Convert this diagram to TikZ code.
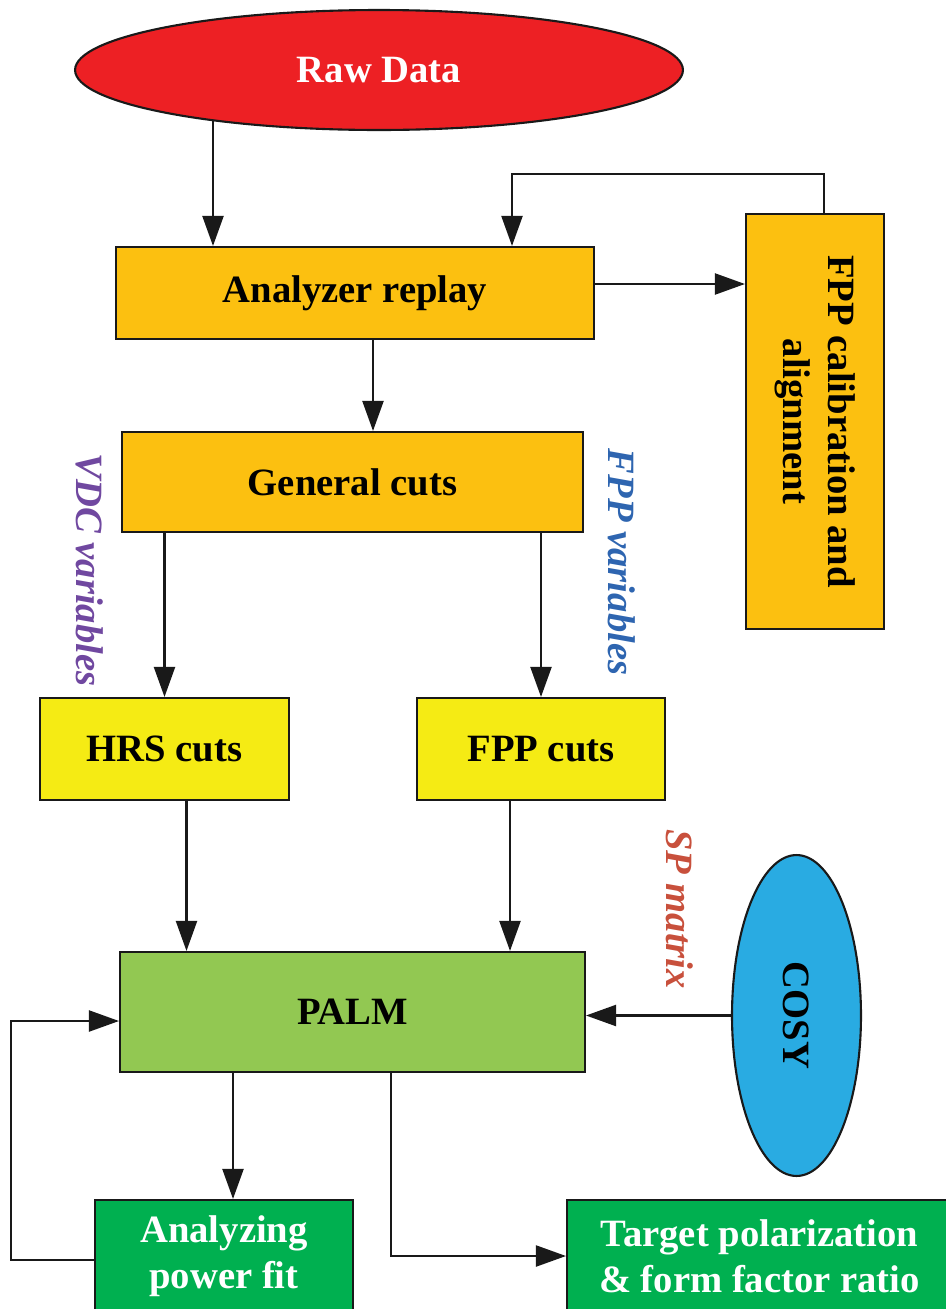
\documentclass[tikz,border=0pt]{standalone}
\usepackage{fontspec}
\setmainfont{Liberation Serif}
\usepackage{tikz}
\usetikzlibrary{shapes.geometric,arrows.meta,calc}

\definecolor{rawred}{RGB}{237,32,36}
\definecolor{boxorange}{RGB}{252,192,16}
\definecolor{boxyellow}{RGB}{245,235,20}
\definecolor{palmgreen}{RGB}{146,200,82}
\definecolor{fitgreen}{RGB}{0,176,80}
\definecolor{cosyblue}{RGB}{41,171,226}
\definecolor{vdcpurple}{RGB}{112,72,160}
\definecolor{fppblue}{RGB}{46,101,176}
\definecolor{spred}{RGB}{200,80,60}

\begin{document}
\begin{tikzpicture}[
    x=0.02cm, y=-0.02cm,
    txt/.style={font=\fontsize{22}{26}\selectfont\bfseries, align=center},
    box/.style={txt, draw=black!90, line width=1.2pt, inner sep=0pt},
    obox/.style={box, fill=boxorange},
    ybox/.style={box, fill=boxyellow},
    gbox/.style={box, fill=fitgreen, text=white},
    oval/.style={txt, ellipse, draw=black!90, line width=1.2pt, inner sep=0pt},
    vlbl/.style={txt, font=\fontsize{22}{26}\selectfont\bfseries\itshape, rotate=-90},
    arr/.style={-{Triangle[length=0.6cm, width=0.42cm]}, line width=1.2pt, draw=black!90},
  ]
  \useasboundingbox (0,0) rectangle (946,1309);
  \clip (0,0) rectangle (946,1309);

  % --- Top ---
  \node[oval, fill=rawred, text=white, minimum width=12.16cm, minimum height=2.4cm] (raw) at (379,70) {Raw Data};
  \node[obox, minimum width=9.56cm, minimum height=1.84cm] (replay) at (355,293) {Analyzer replay};
  \node[obox, minimum width=2.76cm, minimum height=8.3cm] (fppcal) at (815,421.5) {};
  \node[txt, rotate=-90] (fppcaltxt) at (fppcal.center) {FPP calibration and\\alignment};

  % --- Cuts ---
  \node[obox, minimum width=9.22cm, minimum height=2.0cm] (general) at (352.5,482) {General cuts};
  \node[ybox, minimum width=4.98cm, minimum height=2.04cm] (hrs) at (164.5,749) {HRS cuts};
  \node[ybox, minimum width=4.96cm, minimum height=2.04cm] (fppcuts) at (541,749) {FPP cuts};

  % --- Side labels ---
  \node[vlbl, text=vdcpurple] (vdc) at (90,570) {VDC variables};
  \node[vlbl, text=fppblue] (fppvar) at (622,562) {FPP variables};
  \node[vlbl, text=spred] (sp) at (680,909) {SP matrix};

  % --- PALM and results ---
  \node[box, fill=palmgreen, minimum width=9.3cm, minimum height=2.4cm] (palm) at (352.5,1012) {PALM};
  \node[oval, fill=cosyblue, minimum width=2.58cm, minimum height=6.42cm] (cosy) at (796.5,1015.5) {};
  \node[txt, rotate=-90] (cosytxt) at (cosy.center) {COSY};
  \node[gbox, minimum width=5.16cm, minimum height=2.24cm] (apfit) at (224,1256) {Analyzing\\power fit};
  \node[gbox, minimum width=7.7cm, minimum height=2.24cm] (target) at (759.5,1256) {Target polarization\\\& form factor ratio};

  % --- Arrow end points ---
  \coordinate (rawout) at ($(raw.south)+(-166,-10)$);
  \coordinate (replayout) at ($(replay.east)+(0,-9)$);
  \coordinate (replaydown) at ($(replay.south)+(18,0)$);
  \coordinate (replayin) at ($(replay.north)+(157,0)$);
  \coordinate (fppcalout) at ($(fppcal.north)+(9,0)$);
  \coordinate (hrsout) at ($(hrs.south)+(22,0)$);
  \coordinate (fppcutsout) at ($(fppcuts.south)+(-31,0)$);
  \coordinate (fitin) at ($(apfit.north)+(9,0)$);
  \coordinate (fitout) at ($(apfit.west)+(0,4)$);
  \coordinate (palmin) at ($(palm.west)+(0,9)$);
  \coordinate (palmout) at ($(palm.south)+(38.5,0)$);

  % --- Arrows ---
  \draw[arr] (rawout) -- (rawout |- replay.north);
  \draw[arr] (replayout) -- (replayout -| fppcal.west);
  \draw[arr] (fppcalout) -- ++(0,-39) -| (replayin);
  \draw[arr] (replaydown) -- (replaydown |- general.north);
  \draw[arr] (general.south -| hrs.north) -- (hrs.north);
  \draw[arr] (general.south -| fppcuts.north) -- (fppcuts.north);
  \draw[arr] (hrsout) -- (hrsout |- palm.north);
  \draw[arr] (fppcutsout) -- (fppcutsout |- palm.north);
  \draw[arr] (cosy.west) -- (cosy.west -| palm.east);
  \draw[arr] (fitin |- palm.south) -- (fitin);
  \draw[arr] (fitout) -- ++(-83,0) |- (palmin);
  \draw[arr] (palmout) |- (target.west);

\end{tikzpicture}
\end{document}
